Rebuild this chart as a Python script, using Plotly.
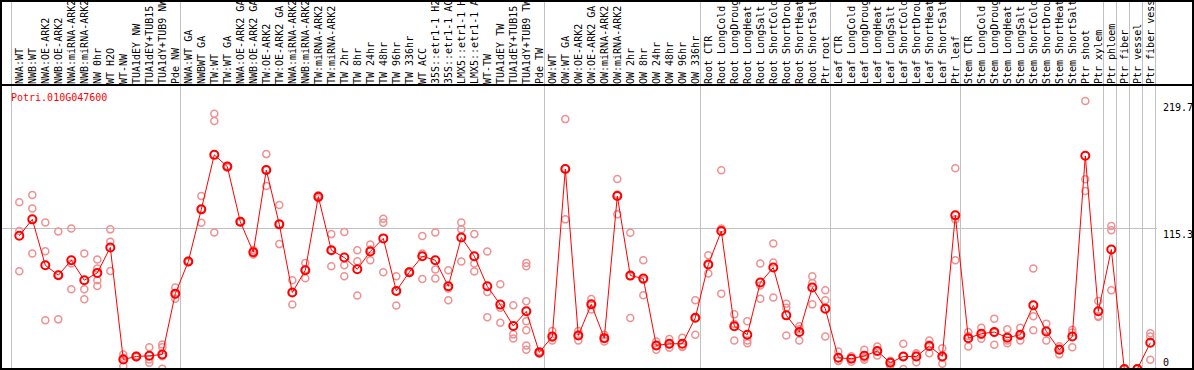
import plotly.graph_objects as go

labels = [
    "NWA:WT", "NWB:WT", "NWA:OE-ARK2", "NWB:OE-ARK2", "NWA:miRNA-ARK2", "NWB:miRNA-ARK2",
    "NW 0hr", "WT H2O", "WT-NW", "TUA1dEY NW", "TUA1dEY+TUB15 NW", "TUA1dY+TUB9 NW", "Pde NW",
    "NWA:WT GA", "NWBWT GA", "TW:WT", "TW:WT GA", "NWA:OE-ARK2 GA", "NWB:OE-ARK2 GA",
    "TW:OE-ARK2", "TW:OE-ARK2 GA", "NWA:miRNA-ARK2", "NWB:miRNA-ARK2", "TW:miRNA-ARK2",
    "TW:miRNA-ARK2", "TW 2hr", "TW 8hr", "TW 24hr", "TW 48hr", "TW 96hr", "TW 336hr",
    "WT ACC", "35S::etr1-1 H2O", "35S::etr1-1 ACC", "LMX5::etr1-1 H2O", "LMX5::etr1-1 ACC",
    "WT-TW", "TUA1dEY TW", "TUA1dEY+TUB15 TW", "TUA1dY+TUB9 TW", "Pde TW",
    "OW:WT", "OW:WT GA", "OW:OE-ARK2", "OW:OE-ARK2 GA", "OW:miRNA-ARK2", "OW:miRNA-ARK2",
    "OW 2hr", "OW 8hr", "OW 24hr", "OW 48hr", "OW 96hr", "OW 336hr",
    "Root CTR", "Root LongCold", "Root LongDrought", "Root LongHeat", "Root LongSalt",
    "Root ShortCold", "Root ShortDrought", "Root ShortHeat", "Root ShortSalt", "Ptr root",
    "Leaf CTR", "Leaf LongCold", "Leaf LongDrought", "Leaf LongHeat", "Leaf LongSalt",
    "Leaf ShortCold", "Leaf ShortDrought", "Leaf ShortHeat", "Leaf ShortSalt", "Ptr leaf",
    "Stem CTR", "Stem LongCold", "Stem LongDrought", "Stem LongHeat", "Stem LongSalt",
    "Stem ShortCold", "Stem ShortDrought", "Stem ShortHeat", "Stem ShortSalt", "Ptr shoot",
    "Ptr xylem", "Ptr phloem", "Ptr fiber", "Ptr vessel", "Ptr fiber vessel",
]

means = [
    109.2, 122.7, 85.1, 76.9, 89.2, 72.8, 78.8, 99.7, 7.8, 10.3, 10.8, 11.9, 61.8,
    88.1, 130.9, 175.6, 166.0, 120.7, 95.8, 163.2, 118.6, 62.7, 81.0, 141.3, 97.4,
    91.4, 81.8, 96.4, 107.1, 64.0, 79.4, 92.5, 89.2, 67.8, 107.9, 92.5, 67.8, 52.8,
    35.2, 47.3, 13.6,
    26.7, 164.0, 27.5, 53.0, 25.3, 141.9, 76.6, 74.2, 19.3, 20.7, 20.7, 42.0,
    85.7, 113.1, 35.0, 28.1, 70.9, 83.2, 44.0, 30.3, 66.8, 49.5,
    9.2, 8.4, 10.8, 14.7, 5.1, 10.3, 10.3, 18.8, 10.3, 126.0,
    25.3, 28.9, 30.3, 25.7, 28.1, 52.2, 30.8, 15.8, 26.7, 174.8,
    47.3, 98.0, 0.0, 0.0, 21.5,
]

replicates = [
    [136.7, 113.1, 80.2], [142.7, 131.7, 94.7], [120.2, 96.6, 39.9], [112.8, 40.7, 77.2],
    [115.3, 86.5, 65.4], [94.7, 65.4, 57.2], [89.8, 82.4, 72.8, 68.1], [114.5, 104.3, 80.4],
    [11.9, 2.3, 9.2], [10.8, 9.6, 10.5], [17.9, 7.8, 5.1], [20.1, 17.9, 10.5, 0.2],
    [66.8, 57.7, 61.0],
    [88.1, 87.5, 88.8], [141.9, 119.9, 131.0], [209.3, 203.3, 112.0], [166.5, 165.2, 166.3],
    [121.0, 120.3, 120.8], [93.9, 97.5, 96.0], [176.2, 150.1, 163.3], [134.5, 102.4, 119.0],
    [72.8, 52.8, 62.5], [87.0, 74.4, 81.6], [142.5, 140.0, 141.4], [110.6, 84.3, 97.3],
    [112.3, 85.1, 76.1], [97.4, 88.4, 60.2], [102.1, 89.2, 97.9], [123.2, 119.9, 79.4],
    [76.1, 52.0, 64.0], [78.8, 80.1, 79.3], [109.0, 73.8, 94.7], [112.0, 81.6, 74.2],
    [81.0, 56.3, 66.1], [120.2, 114.5, 88.1], [110.6, 86.5, 79.9], [96.4, 63.2, 42.4],
    [69.5, 50.3, 38.0], [52.2, 28.4, 25.0], [87.0, 84.3, 55.5, 39.1, 31.7, 19.3, 15.8],
    [14.5, 12.8, 13.5],
    [31.1, 23.4, 25.6], [204.9, 122.7, 164.4], [31.1, 23.4, 28.0], [57.4, 48.7, 53.0],
    [28.0, 22.5, 25.4], [155.8, 126.8, 143.1], [111.7, 41.8, 76.3], [89.2, 60.4, 73.0],
    [22.6, 15.8, 19.5], [24.5, 17.4, 20.2], [25.6, 18.5, 18.0], [56.3, 28.1, 41.6],
    [93.3, 78.3, 85.5], [163.0, 115.3, 61.8], [44.8, 23.4, 36.8], [39.1, 23.4, 21.2],
    [86.5, 57.7, 68.5], [103.0, 87.3, 58.6], [53.6, 50.3, 27.5], [35.0, 23.4, 32.5],
    [76.1, 70.6, 53.0], [64.6, 56.3, 26.7],
    [14.3, 6.6, 6.7], [10.4, 6.0, 8.8], [15.7, 7.5, 9.2], [18.5, 11.1, 14.5], [2.9, 6.8, 5.6],
    [20.7, 0.0, 10.2], [13.0, 5.6, 12.3], [23.4, 13.0, 20.0], [17.1, 4.3, 9.5],
    [164.6, 122.7, 89.2],
    [30.3, 18.5, 27.1], [33.9, 24.9, 27.9], [41.3, 19.9, 29.7], [32.5, 21.2, 23.4],
    [33.9, 23.4, 27.0], [82.4, 43.2, 31.7], [37.2, 23.4, 31.8], [18.6, 12.0, 16.8],
    [32.2, 17.9, 30.0], [219.7, 155.6, 146.0],
    [55.8, 42.6, 43.5], [117.2, 113.7, 64.6], [0.0, 0.0, 0.0], [0.0, 0.0, 0.0],
    [29.4, 26.7, 7.6],
]

group_ends = [-1, 12, 40, 52, 62, 72, 83, 84, 85, 86, 87]
y_ticks = [0, 115.3, 219.7]
title = "Potri.010G047600"

W, H = 1194, 370
ML, MR, MT, MB = 1, 37, 85, 1
PW, PH = W - ML - MR, H - MT - MB
MONO = "DejaVu Sans Mono"


def px_x(p):
    return (p - ML) / PW


def px_y(p):
    return (H - MB - p) / PH


x_idx = list(range(len(labels)))
rx, ry = [], []
for i, reps in enumerate(replicates):
    for v in reps:
        rx.append(i)
        ry.append(v)

fig = go.Figure()
fig.add_trace(go.Scatter(
    x=rx, y=ry, mode="markers",
    marker=dict(symbol="circle-open", size=7, color="#F09090", line=dict(width=1.5, color="#F09090")),
    showlegend=False, hoverinfo="skip",
))
fig.add_trace(go.Scatter(
    x=x_idx, y=means, mode="lines+markers",
    line=dict(color="#FF0000", width=1),
    marker=dict(symbol="circle-open", size=8, color="#FF0000", line=dict(width=2, color="#FF0000")),
    showlegend=False,
))

x_left = (ML - 19.3) / 13
x_right = (W - MR - 19.3) / 13
top_paper = px_y(1)

shapes = []
for g in group_ends:
    gx = g + 0.4
    shapes.append(dict(type="line", xref="x", yref="paper", x0=gx, x1=gx, y0=0, y1=top_paper,
                       line=dict(color="#C0C0C0", width=1), layer="below"))
shapes.append(dict(type="line", xref="paper", yref="paper", x0=px_x(0), x1=px_x(W), y0=1, y1=1,
                   line=dict(color="black", width=2)))
shapes.append(dict(type="rect", xref="paper", yref="paper", x0=px_x(1), x1=px_x(W - 1),
                   y0=px_y(H - 1), y1=top_paper, line=dict(color="black", width=2)))

annotations = [dict(text=title, xref="paper", yref="paper", x=px_x(9), y=px_y(97),
                    xanchor="left", yanchor="middle", showarrow=False,
                    font=dict(family=MONO, size=10, color="#FF0000"))]
for v in y_ticks:
    annotations.append(dict(text=str(v), xref="paper", yref="y", x=px_x(1162), y=v,
                            xanchor="left", yanchor="bottom" if v == 0 else "top",
                            showarrow=False, borderpad=0,
                            font=dict(family=MONO, size=10, color="black")))

fig.update_layout(
    width=W, height=H, template="none",
    margin=dict(l=ML, r=MR, t=MT, b=MB, pad=0),
    paper_bgcolor="white", plot_bgcolor="white",
    shapes=shapes, annotations=annotations,
    xaxis=dict(range=[x_left, x_right], side="top", tickmode="array", tickvals=x_idx,
               ticktext=labels, tickangle=-90, ticks="", showgrid=False, zeroline=False,
               showline=False, automargin=False,
               tickfont=dict(family=MONO, size=10, color="black")),
    yaxis=dict(range=[0, max(max(r) for r in replicates) * 1.06], tickmode="array",
               tickvals=[y_ticks[1]], showticklabels=False, showgrid=True,
               gridcolor="#C0C0C0", gridwidth=1, zeroline=False, showline=False,
               automargin=False),
)

fig.write_html(
    "out.html",
    config={"displayModeBar": False},
    post_script="document.body.style.margin='0';document.body.style.padding='0';"
                "document.body.style.overflow='hidden';",
)
